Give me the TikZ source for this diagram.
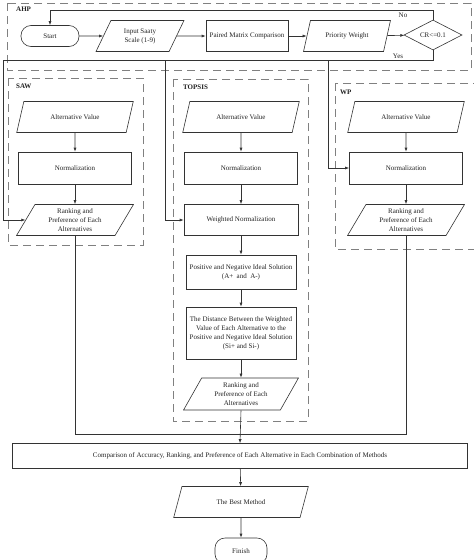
\documentclass[tikz,border=0pt]{standalone}
\usepackage{xcolor}
\usepackage{fontspec}
\setmainfont{Liberation Serif}
\usepackage{tikz}
\usetikzlibrary{positioning,calc,arrows.meta,shapes.geometric}
\definecolor{CLine}{HTML}{333333}
\definecolor{CDash}{HTML}{808080}
\definecolor{CText}{HTML}{222222}

\tikzset{
  base/.style={draw=CLine, line width=0.6pt, text=CText, align=center,
    font=\fontsize{7}{9}\selectfont, inner sep=1pt},
  procbox/.style={base, rectangle, minimum width=#1, minimum height=31pt},
  procbox/.default=113pt,
  iobox/.style={base, trapezium, trapezium left angle=63, trapezium right angle=117,
    trapezium stretches=true, minimum width=#1, minimum height=31pt},
  iobox/.default=117pt,
  termbox/.style={base, rectangle, rounded corners=10pt, minimum height=21pt},
  decbox/.style={base, diamond, aspect=1.9, minimum width=58pt, minimum height=30pt, inner sep=0pt},
  group/.style={draw=CDash, line width=1pt, dash pattern=on 8pt off 5pt},
  grouptitle/.style={font=\fontsize{7}{9}\selectfont\bfseries, text=CText, anchor=west, inner sep=0pt},
  flow/.style={draw=CLine, line width=0.6pt, -{Latex[length=4pt,width=3pt]}},
  link/.style={draw=CLine, line width=0.6pt},
}

\begin{document}
\begin{tikzpicture}[x=1pt, y=-1pt]
  \useasboundingbox (0,0) rectangle (474,560);

  % group frames
  \draw[group] (7,3) rectangle (471,70);
  \draw[group] (8,78) rectangle (143,245);
  \draw[group] (173,79) rectangle (308,421);
  \draw[group] (335,83) rectangle (476,249);
  \node[grouptitle] (tahp) at (16,9) {AHP};
  \node[grouptitle] (tsaw) at (16,86) {SAW};
  \node[grouptitle] (ttop) at (183,87) {TOPSIS};
  \node[grouptitle] (twp)  at (340,92) {WP};

  % AHP row
  \node[termbox, minimum width=58pt] (start) at (50,36) {Start};
  \node[iobox=88pt] (saaty) at (140,36) {Input Saaty\\Scale (1-9)};
  \node[procbox=82pt] (paired) at (247,36) {Paired Matrix Comparison};
  \node[iobox=87pt] (prio) at (347,36) {Priority Weight};
  \node[decbox] (cr) at (433,35) {CR<=0.1};

  % three columns
  \foreach \name/\cx in {saw/75, top/241, wp/406}{
    \node[iobox] (\name alt) at (\cx,117) {Alternative Value};
    \node[procbox, minimum height=32pt] (\name norm) at (\cx,168) {Normalization};
  }
  \node[iobox] (sawrank) at (75,220) {Ranking and\\Preference of Each\\Alternatives};
  \node[iobox] (wprank) at (406,220) {Ranking and\\Preference of Each\\Alternatives};

  % TOPSIS only
  \node[procbox=114pt] (topweight) at (241,220) {Weighted Normalization};
  \node[procbox=110pt, minimum height=34pt] (topideal) at (241,272) {Positive and Negative Ideal Solution\\(A+\ \ and\ \ A-)};
  \node[procbox=110pt, minimum height=52pt] (topdist) at (241,333) {The Distance Between the Weighted\\Value of Each Alternative to the\\Positive and Negative Ideal Solution\\(Si+ and Si-)};
  \node[iobox=115pt, minimum height=32pt] (toprank) at (241,394) {Ranking and\\Preference of Each\\Alternatives};

  % closing part
  \node[procbox=455pt, minimum height=25pt] (compare) at (240,456) {Comparison of Accuracy, Ranking, and Preference of Each Alternative in Each Combination of Methods};
  \node[iobox=135pt] (best) at (241,502) {The Best Method};
  \node[termbox, minimum width=52pt, minimum height=26pt] (finish) at (241,551) {Finish};

  % AHP connectors
  \draw[flow] (start) -- (saaty);
  \draw[flow] (saaty) -- (paired);
  \draw[flow] (paired) -- (prio);
  \draw[flow] (prio) -- (cr);
  \coordinate (nobend) at (cr.north |- 0,10);
  \draw[flow] (cr.north) -- (nobend) -| (start.north);
  \node[base, draw=none] (nolbl) at (403,15) {No};
  \coordinate (yesbend) at (cr.south |- 0,60);
  \coordinate (leftrail) at (3,60);
  \draw[link] (cr.south) -- (yesbend) -- (leftrail);
  \draw[flow] (leftrail) |- (sawrank.west);
  \node[base, draw=none] (yeslbl) at (398,56) {Yes};
  \coordinate (toptap) at (165,60);
  \coordinate (wptap) at (328,60);
  \draw[flow] (toptap) |- (topweight.west);
  \draw[flow] (wptap) |- (wpnorm.west);

  % column flows
  \draw[flow] (sawalt) -- (sawnorm);
  \draw[flow] (sawnorm) -- (sawrank);
  \draw[flow] (wpalt) -- (wpnorm);
  \draw[flow] (wpnorm) -- (wprank);
  \draw[flow] (topalt) -- (topnorm);
  \draw[flow] (topnorm) -- (topweight);
  \draw[flow] (topweight) -- (topideal);
  \draw[flow] (topideal) -- (topdist);
  \draw[flow] (topdist) -- (toprank);

  % merge into comparison
  \coordinate (mergel) at (sawrank.south |- 0,434);
  \coordinate (merger) at (wprank.south |- 0,434);
  \draw[link] (sawrank.south) -- (mergel) -- (merger) -- (wprank.south);
  \draw[flow] (toprank.south) -- (compare.north);
  \draw[flow] (compare) -- (best);
  \draw[flow] (best) -- (finish);
\end{tikzpicture}
\end{document}
